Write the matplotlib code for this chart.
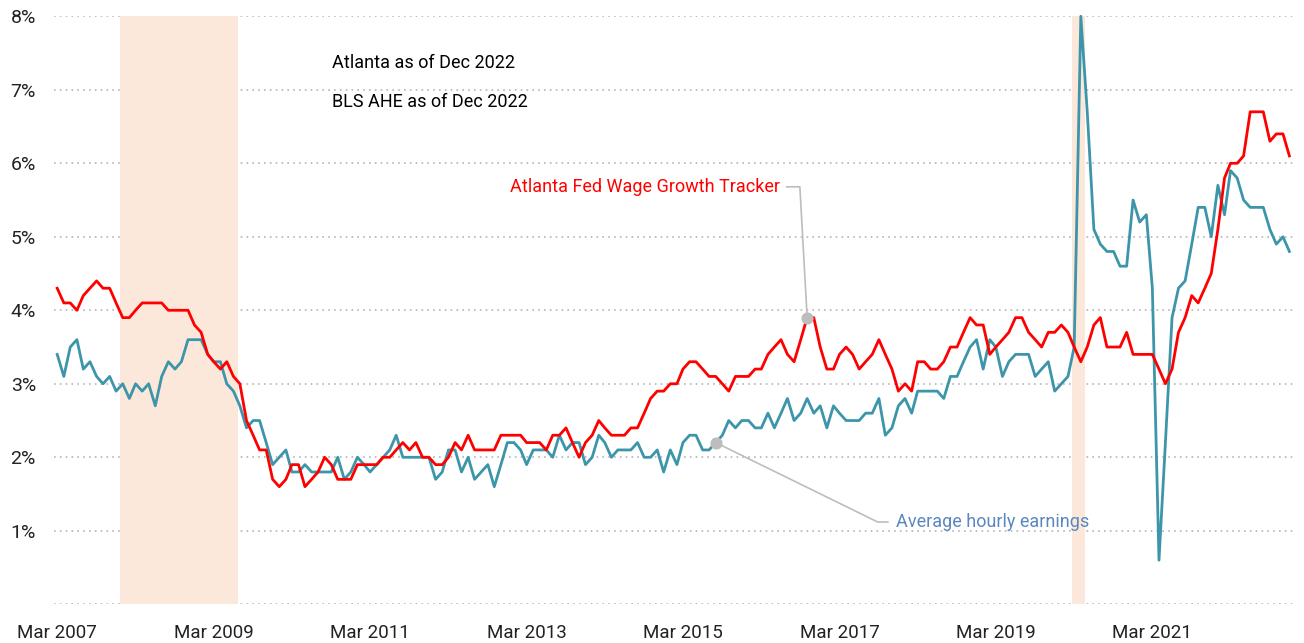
import matplotlib
matplotlib.use("Agg")
import matplotlib.pyplot as plt
import pandas as pd

plt.rcParams['font.family'] = ['Roboto', 'DejaVu Sans']

# monthly, Mar 2007 .. Dec 2022
months = pd.date_range("2007-03-01", periods=190, freq="MS")

# Atlanta Fed Wage Growth Tracker (%)
atlanta = [
    4.3, 4.1, 4.1, 4.0, 4.2, 4.3, 4.4, 4.3, 4.3, 4.1, 3.9, 3.9, 4.0, 4.1, 4.1, 4.1,
    4.1, 4.0, 4.0, 4.0, 4.0, 3.8, 3.7, 3.4, 3.3, 3.2, 3.3, 3.1, 3.0, 2.5, 2.3, 2.1,
    2.1, 1.7, 1.6, 1.7, 1.9, 1.9, 1.6, 1.7, 1.8, 2.0, 1.9, 1.7, 1.7, 1.7, 1.9, 1.9,
    1.9, 1.9, 2.0, 2.0, 2.1, 2.2, 2.1, 2.2, 2.0, 2.0, 1.9, 1.9, 2.0, 2.2, 2.1, 2.3,
    2.1, 2.1, 2.1, 2.1, 2.3, 2.3, 2.3, 2.3, 2.2, 2.2, 2.2, 2.1, 2.3, 2.3, 2.4, 2.2,
    2.0, 2.2, 2.3, 2.5, 2.4, 2.3, 2.3, 2.3, 2.4, 2.4, 2.6, 2.8, 2.9, 2.9, 3.0, 3.0,
    3.2, 3.3, 3.3, 3.2, 3.1, 3.1, 3.0, 2.9, 3.1, 3.1, 3.1, 3.2, 3.2, 3.4, 3.5, 3.6,
    3.4, 3.3, 3.6, 3.9, 3.9, 3.5, 3.2, 3.2, 3.4, 3.5, 3.4, 3.2, 3.3, 3.4, 3.6, 3.4,
    3.2, 2.9, 3.0, 2.9, 3.3, 3.3, 3.2, 3.2, 3.3, 3.5, 3.5, 3.7, 3.9, 3.8, 3.8, 3.4,
    3.5, 3.6, 3.7, 3.9, 3.9, 3.7, 3.6, 3.5, 3.7, 3.7, 3.8, 3.7, 3.5, 3.3, 3.5, 3.8,
    3.9, 3.5, 3.5, 3.5, 3.7, 3.4, 3.4, 3.4, 3.4, 3.2, 3.0, 3.2, 3.7, 3.9, 4.2, 4.1,
    4.3, 4.5, 5.1, 5.8, 6.0, 6.0, 6.1, 6.7, 6.7, 6.7, 6.3, 6.4, 6.4, 6.1,
]

# BLS average hourly earnings, y/y (%)
ahe = [
    3.4, 3.1, 3.5, 3.6, 3.2, 3.3, 3.1, 3.0, 3.1, 2.9, 3.0, 2.8, 3.0, 2.9, 3.0, 2.7,
    3.1, 3.3, 3.2, 3.3, 3.6, 3.6, 3.6, 3.4, 3.3, 3.3, 3.0, 2.9, 2.7, 2.4, 2.5, 2.5,
    2.2, 1.9, 2.0, 2.1, 1.8, 1.8, 1.9, 1.8, 1.8, 1.8, 1.8, 2.0, 1.7, 1.8, 2.0, 1.9,
    1.8, 1.9, 2.0, 2.1, 2.3, 2.0, 2.0, 2.0, 2.0, 2.0, 1.7, 1.8, 2.1, 2.1, 1.8, 2.0,
    1.7, 1.8, 1.9, 1.6, 1.9, 2.2, 2.2, 2.1, 1.9, 2.1, 2.1, 2.1, 2.0, 2.3, 2.1, 2.2,
    2.2, 1.9, 2.0, 2.3, 2.2, 2.0, 2.1, 2.1, 2.1, 2.2, 2.0, 2.0, 2.1, 1.8, 2.1, 1.9,
    2.2, 2.3, 2.3, 2.1, 2.1, 2.2, 2.3, 2.5, 2.4, 2.5, 2.5, 2.4, 2.4, 2.6, 2.4, 2.6,
    2.8, 2.5, 2.6, 2.8, 2.6, 2.7, 2.4, 2.7, 2.6, 2.5, 2.5, 2.5, 2.6, 2.6, 2.8, 2.3,
    2.4, 2.7, 2.8, 2.6, 2.9, 2.9, 2.9, 2.9, 2.8, 3.1, 3.1, 3.3, 3.5, 3.6, 3.2, 3.6,
    3.5, 3.1, 3.3, 3.4, 3.4, 3.4, 3.1, 3.2, 3.3, 2.9, 3.0, 3.1, 3.5, 8.0, 6.7, 5.1,
    4.9, 4.8, 4.8, 4.6, 4.6, 5.5, 5.2, 5.3, 4.3, 0.6, 2.2, 3.9, 4.3, 4.4, 4.9, 5.4,
    5.4, 5.0, 5.7, 5.3, 5.9, 5.8, 5.5, 5.4, 5.4, 5.4, 5.1, 4.9, 5.0, 4.8,
]

recessions = [("2007-12-20", "2009-06-24"), ("2020-02-19", "2020-04-19")]
tick_months = pd.date_range("2007-03-01", "2021-03-01", freq="24MS")
tick_labels = [d.strftime("Mar %Y") for d in tick_months]
y_ticks = [1, 2, 3, 4, 5, 6, 7, 8]

red = "#ff0000"
teal = "#3d95aa"
grey = "#bdbdbd"

fig = plt.figure(figsize=(13.04, 6.43), dpi=100)
ax = fig.add_axes([0.0414, 0.0602, 0.9502, 0.9145])

for y in range(0, 9):
    ax.axhline(y, color="#b5b5b5", lw=1.2, ls=(0, (1, 2.5)), zorder=1)

for start, end in recessions:
    ax.axvspan(pd.Timestamp(start), pd.Timestamp(end), color="#fce8da", lw=0, zorder=2)

ax.plot(months, ahe, color=teal, lw=2.0, zorder=4, clip_on=False)
ax.plot(months, atlanta, color=red, lw=2.0, zorder=5, clip_on=False)

# leader for the Atlanta label
i_red = 115
ax.plot([months[111] + pd.Timedelta(days=27), months[113] + pd.Timedelta(days=27), months[i_red]],
        [5.68, 5.68, atlanta[i_red]], color=grey, lw=1.2, zorder=6)
ax.scatter([months[i_red]], [atlanta[i_red]], s=60, color=grey, zorder=7)
ax.text(months[110] + pd.Timedelta(days=25), 5.68, "Atlanta Fed Wage Growth Tracker",
        color=red, fontsize=13, ha="right", va="center", zorder=8)

# leader for the AHE label
i_blue = 101
ax.plot([months[i_blue], months[125] + pd.Timedelta(days=25), months[127] + pd.Timedelta(days=12)],
        [ahe[i_blue], 1.12, 1.12], color=grey, lw=1.2, zorder=6)
ax.scatter([months[i_blue]], [ahe[i_blue]], s=60, color=grey, zorder=7)
ax.text(months[128] + pd.Timedelta(days=20), 1.12, "Average hourly earnings",
        color="#5a87c0", fontsize=13, ha="left", va="center", zorder=8)

ax.text(0.2245, 0.92, "Atlanta as of Dec 2022", transform=ax.transAxes,
        fontsize=13, ha="left", va="center")
ax.text(0.2245, 0.855, "BLS AHE as of Dec 2022", transform=ax.transAxes,
        fontsize=13, ha="left", va="center")

ax.set_ylim(0, 8)
ax.set_xlim(pd.Timestamp("2007-02-14"), pd.Timestamp("2022-12-18"))
ax.set_yticks(y_ticks)
ax.set_yticklabels([f"{v}%" for v in y_ticks])
ax.set_xticks(tick_months)
ax.set_xticklabels(tick_labels)
ax.tick_params(axis="both", length=0, labelsize=14, colors="#222222")
ax.tick_params(axis="x", labelsize=13.5)
ax.tick_params(axis="y", pad=13)
ax.tick_params(axis="x", pad=14)
for s in ax.spines.values():
    s.set_visible(False)

fig.savefig("out.png", dpi=100)
